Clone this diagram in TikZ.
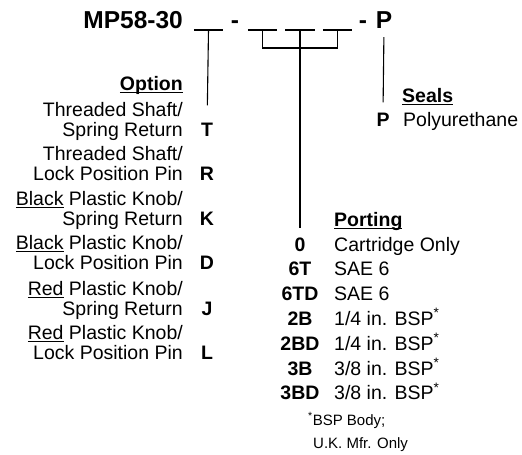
\documentclass[tikz,border=0pt]{standalone}
\usepackage{fontspec}
\setmainfont{Liberation Sans}
\usetikzlibrary{positioning}

\newcommand\ulin[1]{\setbox0\hbox{#1}\rlap{\rule[-2.5pt]{\wd0}{1pt}}\box0\relax}

\begin{document}
\begin{tikzpicture}[x=1pt, y=-1pt,
  txt/.style={inner sep=0pt, font=\fontsize{19.5}{20}\selectfont},
  head/.style={inner sep=0pt, font=\fontsize{19.5}{20}\selectfont\bfseries},
  code/.style={head, anchor=base},
  title/.style={inner sep=0pt, anchor=base, font=\fontsize{24.5}{26}\selectfont\bfseries},
  note/.style={inner sep=0pt, anchor=base west, font=\fontsize{15}{16}\selectfont},
  blank/.style={inner sep=0pt, minimum width=29pt, minimum height=0pt},
  rule/.style={line width=1.1pt}]
  \useasboundingbox (0,0) rectangle (522,455);

  % model code with its blanks
  \node[title, anchor=base east] (mp) at (183,28) {MP58-30};
  \node[title] (dash1) at (235,28) {-};
  \node[title] (dash2) at (363,28) {-};
  \node[title] (seal) at (384,28) {P};
  \node[blank] (b1) at (208.5,30) {};
  \node[blank] (b2) at (262.5,30) {};
  \node[blank] (b3) at (300,30) {};
  \node[blank] (b4) at (337.5,30) {};
  \foreach \b in {b1,b2,b3,b4}
    \draw[rule] (\b.west) -- (\b.east);

  % option
  \node[head, anchor=base east] (option) at (183,90) {\ulin{Option}};
  \foreach \code/\yb/\first/\second in {
      T/136/{Threaded Shaft/}/{Spring Return},
      R/180/{Threaded Shaft/}/{Lock Position Pin},
      K/225/{\ulin{Black} Plastic Knob/}/{Spring Return},
      D/269/{\ulin{Black} Plastic Knob/}/{Lock Position Pin},
      J/315/{\ulin{Red} Plastic Knob/}/{Spring Return},
      L/359/{\ulin{Red} Plastic Knob/}/{Lock Position Pin}}{
    \node[txt, anchor=base east] (opt\code a) at (183,\yb-20) {\first};
    \node[txt, anchor=base east] (opt\code b) at (183,\yb) {\second};
    \node[code] (opt\code) at (207,\yb) {\code};
  }

  % porting
  \node[head, anchor=base west] (porting) at (334,226) {\ulin{Porting}};
  \foreach \code/\desc [count=\k from 0] in {
      0/Cartridge Only, 6T/SAE 6, 6TD/SAE 6,
      2B/{1/4 in. BSP\textsuperscript{*}}, 2BD/{1/4 in. BSP\textsuperscript{*}},
      3B/{3/8 in. BSP\textsuperscript{*}}, 3BD/{3/8 in. BSP\textsuperscript{*}}}{
    \node[code] (port\code) at (300,251+24.8*\k) {\code};
    \node[txt, anchor=base west] (desc\code) at (334,251+24.8*\k) {\desc};
  }
  \node[note] (fn1) at (308,425) {\textsuperscript{*}BSP Body;};
  \node[note] (fn2) at (313,448) {U.K. Mfr. Only};

  % seals
  \node[head, anchor=base west] (seals) at (402,102) {\ulin{Seals}};
  \node[code] (sealP) at (383,126) {P};
  \node[txt, anchor=base west] (poly) at (403,126) {Polyurethane};

  % leaders
  \draw[rule, shorten >=17pt] (b1) -- (optT);
  \draw[rule] (b2) -- ++(0,18) -| (b4);
  \draw[rule, shorten >=9pt] (b3) -- (port0);
  \draw[rule, shorten <=9pt, shorten >=10pt] (seal.south) -- (sealP.north);
\end{tikzpicture}
\end{document}
